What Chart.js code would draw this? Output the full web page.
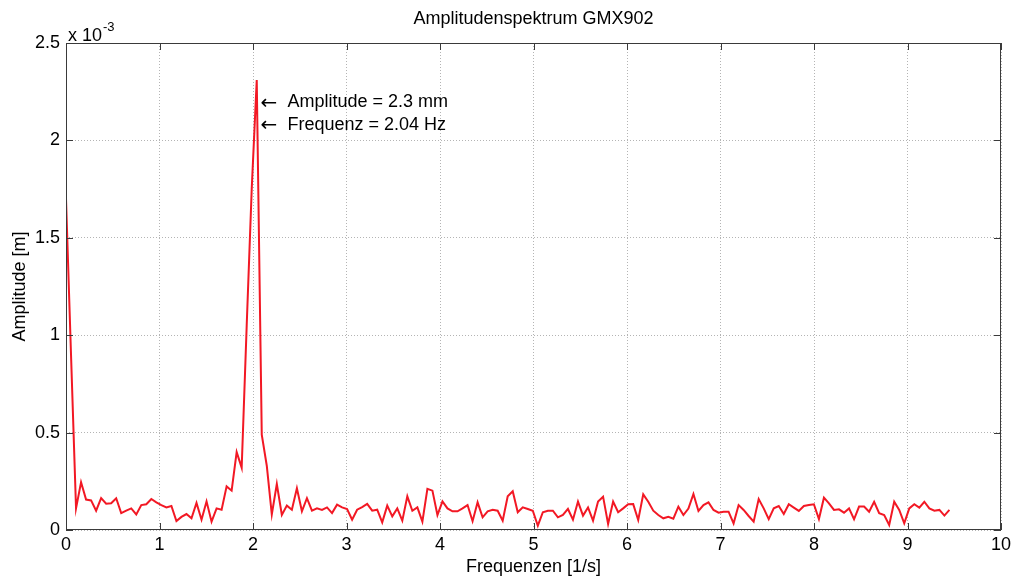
<!DOCTYPE html>
<html><head><meta charset="utf-8">
<script src="https://cdn.jsdelivr.net/npm/chart.js@4.4.1/dist/chart.umd.min.js"></script>
<style>html,body{margin:0;padding:0;background:#fff;overflow:hidden}#wrap{width:1017px;height:579px;position:relative}</style>
</head><body><div id="wrap"><canvas id="c" width="1017" height="579"></canvas></div>
<script>
const chartTitle = 'Amplitudenspektrum GMX902';
const xAxisTitle = 'Frequenzen [1/s]';
const yAxisTitle = 'Amplitude [m]';
const yExponentBase = 'x 10';
const yExponentPower = '-3';
const frequencyStepHz = 2.04 / 38;
const amplitudeE3 = [
 1.70,0.90,0.111,0.245,0.156,0.152,0.099,0.164,0.135,0.137,
 0.163,0.087,0.099,0.111,0.080,0.128,0.132,0.159,0.142,0.128,
 0.116,0.123,0.046,0.067,0.082,0.060,0.139,0.053,0.147,0.043,
 0.111,0.104,0.224,0.202,0.40,0.32,1.05,1.75,2.31,0.49,
 0.33,0.08,0.236,0.077,0.125,0.104,0.214,0.096,0.163,0.099,
 0.111,0.103,0.116,0.087,0.130,0.116,0.108,0.053,0.104,0.118,
 0.134,0.099,0.104,0.039,0.125,0.070,0.111,0.048,0.173,0.099,
 0.116,0.043,0.211,0.202,0.077,0.147,0.111,0.096,0.096,0.111,
 0.128,0.045,0.142,0.065,0.096,0.104,0.099,0.048,0.173,0.199,
 0.091,0.116,0.108,0.099,0.022,0.091,0.099,0.099,0.065,0.077,
 0.108,0.053,0.146,0.074,0.116,0.048,0.146,0.171,0.031,0.146,
 0.091,0.111,0.132,0.133,0.051,0.183,0.145,0.099,0.077,0.060,
 0.068,0.058,0.120,0.077,0.110,0.185,0.098,0.128,0.142,0.103,
 0.089,0.094,0.094,0.034,0.128,0.103,0.072,0.043,0.159,0.111,
 0.056,0.111,0.123,0.082,0.132,0.115,0.098,0.123,0.128,0.132,
 0.056,0.166,0.137,0.103,0.106,0.089,0.111,0.055,0.120,0.120,
 0.094,0.145,0.086,0.077,0.026,0.145,0.103,0.034,0.111,0.132,
 0.115,0.145,0.111,0.099,0.103,0.074,0.103
];
const frequencies = amplitudeE3.map((_, i) => i * frequencyStepHz);
const xTicks = [0,1,2,3,4,5,6,7,8,9,10];
const yTicks = [0,0.5,1,1.5,2,2.5];
const annotationArrow = '\u2190';
const annotationLines = ['Amplitude = 2.3 mm', 'Frequenz = 2.04 Hz'];

const FONT = '"Liberation Sans", Arial, Helvetica, sans-serif';

const decor = {
  id: 'decor',
  afterDraw(chart) {
    const {ctx, chartArea: a, scales: {x, y}} = chart;
    ctx.save();
    ctx.strokeStyle = '#3a3a3a';
    ctx.lineWidth = 1;
    ctx.strokeRect(a.left + 0.5, a.top + 0.5, a.right - a.left - 1, a.bottom - a.top - 1);
    ctx.beginPath();
    xTicks.forEach(v => {
      const px = Math.round(x.getPixelForValue(v)) + 0.5;
      ctx.moveTo(px, a.bottom); ctx.lineTo(px, a.bottom - 7);
      ctx.moveTo(px, a.top); ctx.lineTo(px, a.top + 7);
    });
    yTicks.forEach(v => {
      const py = Math.round(y.getPixelForValue(v)) + 0.5;
      ctx.moveTo(a.left, py); ctx.lineTo(a.left + 7, py);
      ctx.moveTo(a.right, py); ctx.lineTo(a.right - 7, py);
    });
    ctx.stroke();
    ctx.fillStyle = '#000';
    ctx.font = '18px ' + FONT;
    ctx.textAlign = 'center'; ctx.textBaseline = 'middle';
    ctx.fillText(chartTitle, (a.left + a.right) / 2, 19);
    ctx.fillText(xAxisTitle, (a.left + a.right) / 2, 567);
    ctx.save();
    ctx.translate(20, (a.top + a.bottom) / 2);
    ctx.rotate(-Math.PI / 2);
    ctx.fillText(yAxisTitle, 0, 0);
    ctx.restore();
    ctx.textAlign = 'left'; ctx.textBaseline = 'alphabetic';
    ctx.font = '18px ' + FONT;
    ctx.fillText(yExponentBase, a.left + 2, a.top - 2);
    const w = ctx.measureText(yExponentBase).width;
    ctx.font = '13px ' + FONT;
    ctx.fillText(yExponentPower, a.left + 2 + w + 1, a.top - 12);
    // annotation
    ctx.textBaseline = 'middle';
    const ax = x.getPixelForValue(2.09);
    [2.195, 2.08].forEach((yv, k) => {
      const py = y.getPixelForValue(yv);
      ctx.font = '20px "DejaVu Sans", sans-serif';
      ctx.fillText(annotationArrow, ax - 1, py + 1);
      ctx.font = '18px ' + FONT;
      ctx.fillText(annotationLines[k], ax + 26, py);
    });
    ctx.restore();
  }
};

new Chart(document.getElementById('c'), {
  type: 'line',
  data: {
    datasets: [{
      data: frequencies.map((f, i) => ({x: f, y: amplitudeE3[i]})),
      borderColor: 'rgb(242,24,36)',
      borderWidth: 2,
      pointRadius: 0,
      tension: 0,
      fill: false
    }]
  },
  options: {
    responsive: false,
    animation: false,
    devicePixelRatio: 1,
    layout: {padding: {top: 43, right: 16, left: 0, bottom: 0}},
    plugins: {legend: {display: false}, title: {display: false}, tooltip: {enabled: false}},
    scales: {
      x: {
        type: 'linear', min: 0, max: 10,
        afterFit(s) { s.height = 49; },
        afterBuildTicks(s) { s.ticks = xTicks.map(v => ({value: v})); },
        ticks: {color: '#000', font: {family: FONT, size: 18}, padding: 4, maxRotation: 0, autoSkip: false},
        grid: {color: '#b4b4b4', lineWidth: 1, drawTicks: false},
        border: {display: false, dash: [1, 2]}
      },
      y: {
        type: 'linear', min: 0, max: 2.5,
        afterFit(s) { s.width = 66; },
        afterBuildTicks(s) { s.ticks = yTicks.map(v => ({value: v})); },
        ticks: {color: '#000', font: {family: FONT, size: 18}, padding: 6, callback: v => String(v)},
        grid: {color: '#b4b4b4', lineWidth: 1, drawTicks: false},
        border: {display: false, dash: [1, 2]}
      }
    }
  },
  plugins: [decor]
});
</script></body></html>
